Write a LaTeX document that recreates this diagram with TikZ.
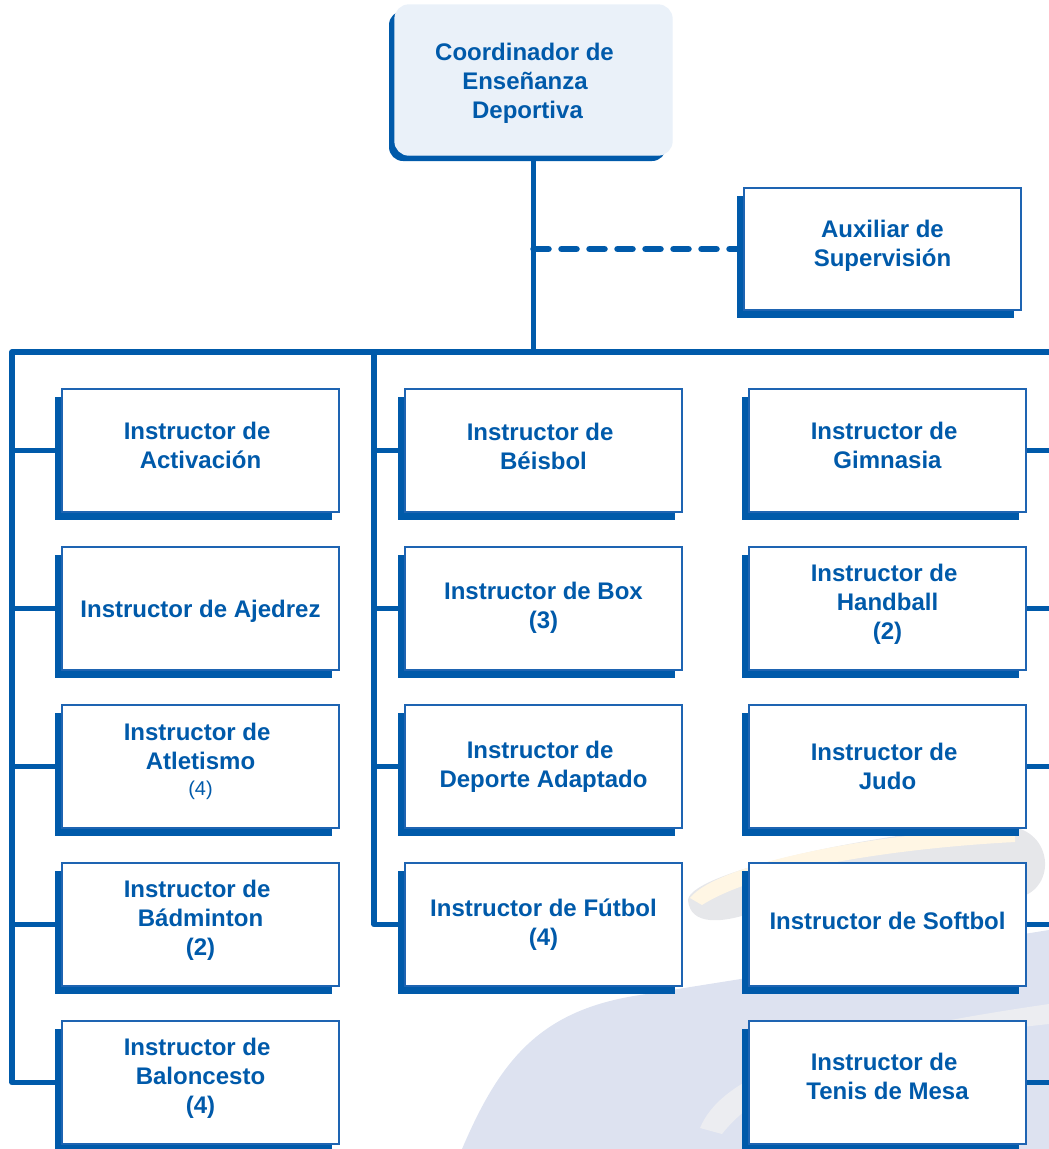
\documentclass[tikz,border=0pt]{standalone}
\usepackage{fontspec}
\setmainfont{Liberation Sans}
\usetikzlibrary{shadows}
\definecolor{mblue}{RGB}{0,90,170}
\definecolor{bord}{RGB}{30,100,178}
\definecolor{topfill}{RGB}{234,241,249}
\definecolor{lav}{RGB}{221,226,240}
\definecolor{wgrey}{RGB}{230,231,234}
\definecolor{wband}{RGB}{236,237,241}
\definecolor{wyel}{RGB}{255,246,228}
\pgfdeclarelayer{wm}\pgfdeclarelayer{back}\pgfsetlayers{wm,back,main}
% depth / height struts and trailing spaces used to place text as in the reference
\newcommand\mydp[1]{\rule[-#1pt]{0pt}{#1pt}}
\newcommand\myht[1]{\rule{0pt}{#1pt}}
\newcommand\mywd[1]{\rule{#1pt}{0pt}}
\newcommand\tsp{\mywd{6.7}}
\begin{document}
\begin{tikzpicture}[x=1pt,y=-1pt,
  boxbase/.style={line width=1.4pt, minimum width=277pt, inner sep=2pt, align=center,
    text=mblue, font=\fontsize{24}{29}\selectfont\bfseries},
  ibox/.style={boxbase, draw=bord, fill=white, minimum height=123pt,
    general shadow={fill=mblue, shadow xshift=-7.5pt, shadow yshift=-8pt}},
  topbox/.style={boxbase, draw=topfill, fill=topfill, rounded corners=14pt, minimum height=150pt,
    general shadow={fill=mblue, shadow xshift=-6pt, shadow yshift=-6pt}},
  bus/.style={draw=mblue, line width=5.5pt, line join=round},
  dashline/.style={draw=mblue, line width=6.5pt, line cap=round, dash pattern=on 15pt off 13pt}]
\useasboundingbox (0,0) rectangle (1049,1149);

% watermark
\begin{pgfonlayer}{wm}
\fill[lav] (462,1149) .. controls (500,1060) and (540,1010) .. (640,995)
  -- (1049,930) -- (1049,1149) -- cycle;
\fill[wband] (700,1128) .. controls (720,1080) and (800,1040) .. (1049,1004)
  -- (1049,1024) .. controls (850,1045) and (760,1085) .. (722,1134) -- cycle;
\fill[wgrey] (688,900) .. controls (690,870) and (900,828) .. (1000,826)
  .. controls (1050,824) and (1058,880) .. (1026,895) -- (760,910)
  .. controls (720,925) and (690,925) .. cycle;
\fill[wyel] (690,898) .. controls (720,860) and (900,830) .. (1015,828)
  -- (1015,842) .. controls (900,848) and (760,868) .. (702,905) -- cycle;
\end{pgfonlayer}

% boxes
\node[topbox] (coord) at (533.5,80) {\myht{24}Coordinador de\mywd{18}\\Enseñanza\mywd{17}\\Deportiva\mywd{12}};
\node[ibox, minimum height=122pt] (aux) at (882.5,249) {Auxiliar de\\Supervisión\mydp{10.5}};

\node[ibox] (act) at (200.5,450.5) {Instructor de\tsp\\Activación\mydp{11}};
\node[ibox] (aje) at (200.5,608.5) {\myht{23}Instructor de Ajedrez};
\node[ibox] (atl) at (200.5,766.5) {Instructor de\tsp\\Atletismo\\[-3pt]{\mdseries\fontsize{20}{26}\selectfont(4)}\mydp{14.8}};
\node[ibox] (bad) at (200.5,924.5) {Instructor de\tsp\\Bádminton\\(2)\mydp{14}};
\node[ibox] (bal) at (200.5,1082.5) {Instructor de\tsp\\Baloncesto\\(4)\mydp{12.6}};

\node[ibox] (bei) at (543.5,450.5) {Instructor de\tsp\\Béisbol\mydp{9}};
\node[ibox] (box) at (543.5,608.5) {Instructor de Box\\(3)\mydp{7}};
\node[ibox] (dep) at (543.5,766.5) {Instructor de\tsp\\Deporte Adaptado};
\node[ibox] (fut) at (543.5,924.5) {Instructor de Fútbol\\(4)};

\node[ibox] (gim) at (887.5,450.5) {Instructor de\tsp\\Gimnasia\mydp{10}};
\node[ibox] (han) at (887.5,608.5) {Instructor de\tsp\\Handball\\(2)\mydp{13}};
\node[ibox] (jud) at (887.5,766.5) {Instructor de\tsp\\Judo};
\node[ibox] (sof) at (887.5,924.5) {Instructor de Softbol\mydp{7.5}};
\node[ibox] (ten) at (887.5,1082.5) {Instructor de\tsp\\Tenis de Mesa\mydp{12}};

% connectors
\coordinate (busL) at (12,352);
\coordinate (busM) at (374,352);
\coordinate (busR) at (1049,352);
\coordinate (dj) at (coord.south |- aux.west);
\begin{pgfonlayer}{back}
\draw[bus] (coord.south) -- (coord.south |- busR);
\draw[dashline] (dj) -- (aux.west);
\draw[bus] (busR) -- (busL) -- (busL |- bal.west) -- (bal.west);
\foreach \n in {act,aje,atl,bad} \draw[bus] (busL |- \n.west) -- (\n.west);
\draw[bus] (busM) -- (busM |- fut.west) -- (fut.west);
\foreach \n in {bei,box,dep} \draw[bus] (busM |- \n.west) -- (\n.west);
\foreach \n in {gim,han,jud,sof,ten} \draw[bus] (\n.east) -- (\n.east -| busR);
\end{pgfonlayer}
\end{tikzpicture}
\end{document}
